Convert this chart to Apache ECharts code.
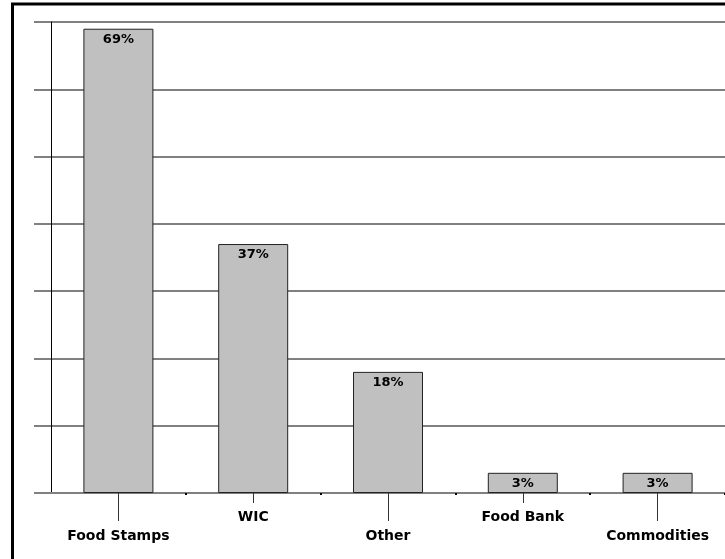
<!DOCTYPE html>
<html>
<head>
<meta charset="utf-8">
<style>
  html, body { margin: 0; padding: 0; background: #fff; }
  #chart { width: 725px; height: 559px; }
</style>
<script src="https://cdn.jsdelivr.net/npm/echarts@6/dist/echarts.min.js"></script>
</head>
<body>
<div id="chart"></div>
<script>
// Share of respondents using each food assistance program (%)
const categories = ['Food Stamps', 'WIC', 'Other', 'Food Bank', 'Commodities'];
const shares = [69, 37, 18, 3, 3];
const yMax = 70;
const yStep = 10;

const fontFamily = '"DejaVu Sans", "Liberation Sans", Arial, sans-serif';
const categoryFont = { fontFamily, fontWeight: 'bold', fontSize: 14, color: '#000' };
const valueFont = { fontFamily, fontWeight: 'bold', fontSize: 13, color: '#000' };

const chart = echarts.init(document.getElementById('chart'), null, { renderer: 'canvas' });

// Staggered category labels: even positions sit low on long leaders, odd ones sit high on short leaders
const isLow = (i) => i % 2 === 0;
const isHigh = (i) => i % 2 === 1;

chart.setOption({
  animation: false,
  backgroundColor: '#fff',
  grid: { left: 51, right: 0, top: 22, bottom: 66, containLabel: false },
  graphic: [{
    type: 'rect',
    shape: { x: 12.5, y: 4, width: 800, height: 700 },
    style: { fill: 'none', stroke: '#000', lineWidth: 3 },
    silent: true
  }],
  xAxis: [
    {
      type: 'category',
      data: categories,
      position: 'bottom',
      axisLine: { show: true, lineStyle: { color: '#808080', width: 2 } },
      axisTick: { show: true, alignWithLabel: true, length: 28, interval: isLow, lineStyle: { color: '#333', width: 1 } },
      axisLabel: { interval: isLow, margin: 36, ...categoryFont }
    },
    {
      type: 'category',
      data: categories,
      position: 'bottom',
      axisLine: { show: false },
      axisTick: { show: true, alignWithLabel: true, length: 10, interval: isHigh, lineStyle: { color: '#333', width: 1 } },
      axisLabel: { interval: isHigh, margin: 17, ...categoryFont }
    },
    {
      type: 'category',
      data: categories,
      position: 'bottom',
      axisLine: { show: false },
      axisTick: { show: true, alignWithLabel: false, length: 2, interval: (i) => i > 0 && i < categories.length, lineStyle: { color: '#000', width: 2 } },
      axisLabel: { show: false }
    }
  ],
  yAxis: {
    type: 'value',
    min: 0,
    max: yMax,
    interval: yStep,
    axisLine: { show: true, lineStyle: { color: '#000', width: 1 } },
    axisTick: { show: true, inside: false, length: 17, lineStyle: { color: '#808080', width: 2 } },
    axisLabel: { show: false },
    splitLine: { show: true, lineStyle: { color: '#808080', width: 2 } }
  },
  series: [{
    type: 'bar',
    xAxisIndex: 0,
    data: shares,
    barWidth: 70,
    itemStyle: { color: '#c0c0c0', borderColor: '#222', borderWidth: 1 },
    label: {
      show: true,
      position: 'insideTop',
      distance: 4,
      formatter: '{c}%',
      ...valueFont
    }
  }]
});
</script>
</body>
</html>
